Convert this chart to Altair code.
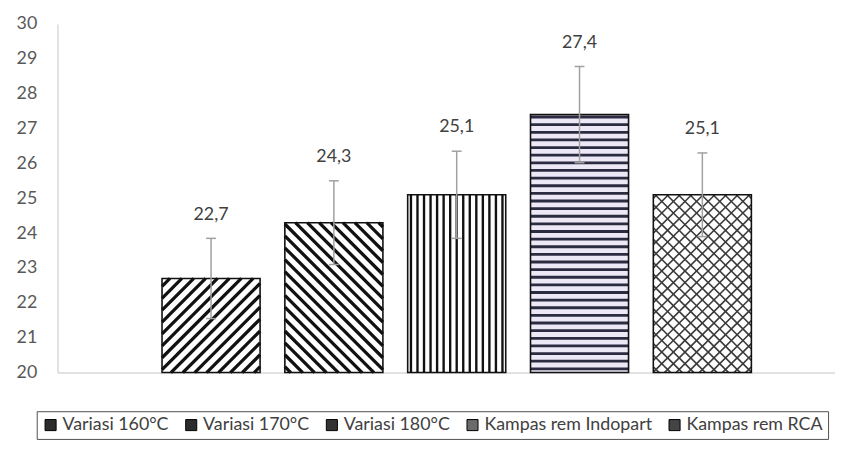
import altair as alt
import pandas as pd
import numpy as np

# ---- data ----
categories = ["Variasi 160°C", "Variasi 170°C", "Variasi 180°C",
              "Kampas rem Indopart", "Kampas rem RCA"]
values = [22.7, 24.3, 25.1, 27.4, 25.1]
errors = [1.15, 1.2, 1.25, 1.38, 1.2]
value_labels = ["22,7", "24,3", "25,1", "27,4", "25,1"]
y_ticks = [20, 21, 22, 23, 24, 25, 26, 27, 28, 29, 30]

# ---- layout / style ----
W, H = 785, 352
X0, X1 = -1.25, 5.08
Y0, Y1 = 20, 30
pxx = W / (X1 - X0)
pxy = H / (Y1 - Y0)
BAR_PX = 99
half = BAR_PX / 2 / pxx

bg_colors = ["#ffffff", "#ffffff", "#ffffff", "#ece8f5", "#ffffff"]
# (kind, spacing px, stroke width px, color)
hatches = [
    ("fwd", 12.0, 3.3, "#111111"),
    ("back", 12.0, 3.3, "#111111"),
    ("vert", 6.6, 2.4, "#111111"),
    ("horiz", 7.7, 2.8, "#2b2b42"),
    ("cross", 11.7, 1.6, "#3a3a3a"),
]
legend_fill = ["#2b2b2b", "#2b2b2b", "#333333", "#6a6a6a", "#444444"]

df = pd.DataFrame({
    "idx": list(range(len(categories))),
    "cat": categories,
    "val": values,
    "err": errors,
    "lab": value_labels,
    "bg": bg_colors,
})
df["lo"] = df["val"] - df["err"]
df["hi"] = df["val"] + df["err"]
df["xl"] = df["idx"] - half
df["xr"] = df["idx"] + half
df["base"] = Y0
df["cl"] = df["idx"] - 5 / pxx
df["cr"] = df["idx"] + 5 / pxx

# ---- hatch segments derived from each bar's value ----
segs = []
for i, v in enumerate(values):
    kind, s, w, c = hatches[i]
    Hb = (v - Y0) * pxy
    BW = BAR_PX

    def add(u0, v0, u1, v1):
        segs.append({"x": i - half + u0 / pxx, "x2": i - half + u1 / pxx,
                     "y": Y0 + v0 / pxy, "y2": Y0 + v1 / pxy, "w": w, "c": c})

    if kind in ("fwd", "cross"):
        for k in np.arange(-BW + s / 2, Hb, s):
            us, ue = max(0, -k), min(BW, Hb - k)
            if ue > us:
                add(us, us + k, ue, ue + k)
    if kind in ("back", "cross"):
        for k in np.arange(s / 2, BW + Hb, s):
            us, ue = max(0, k - Hb), min(BW, k)
            if ue > us:
                add(us, k - us, ue, k - ue)
    if kind == "vert":
        for u in np.arange(s / 2, BW, s):
            add(u, 0, u, Hb)
    if kind == "horiz":
        for vv in np.arange(s / 2, Hb, s):
            add(0, vv, BW, vv)
hdf = pd.DataFrame(segs)

xs = alt.Scale(domain=[X0, X1], nice=False, zero=False)
ys = alt.Scale(domain=[Y0, Y1], nice=False, zero=False)
FONT = "Lato"

x_axis = alt.Axis(labels=False, ticks=False, grid=False, title=None,
                  domainColor="#d9d9d9", domainWidth=1.5)
y_axis = alt.Axis(values=y_ticks, ticks=False, grid=False, title=None,
                  domainColor="#d9d9d9", domainWidth=1.5, labelPadding=21,
                  labelFontSize=18, labelColor="#595959", labelFont=FONT)


def X(f):
    return alt.X(f, scale=xs, axis=x_axis)


def Y(f):
    return alt.Y(f, scale=ys, axis=y_axis)


base = alt.Chart(df)

bars_bg = base.mark_rect(strokeWidth=0).encode(
    x=X("xl:Q"), x2="xr:Q", y=Y("base:Q"), y2="val:Q",
    fill=alt.Fill("bg:N", scale=None),
)

hatch = alt.Chart(hdf).mark_rule(strokeCap="butt").encode(
    x=X("x:Q"), x2="x2:Q", y=Y("y:Q"), y2="y2:Q",
    color=alt.Color("c:N", scale=None),
    strokeWidth=alt.StrokeWidth("w:Q", scale=None),
)

outline = base.mark_rect(fillOpacity=0, stroke="#111111", strokeWidth=1.6).encode(
    x=X("xl:Q"), x2="xr:Q", y=Y("base:Q"), y2="val:Q",
)

err_line = base.mark_rule(color="#a0a0a0", strokeWidth=1.5).encode(
    x=X("idx:Q"), y=Y("lo:Q"), y2="hi:Q",
)
cap_hi = base.mark_rule(color="#a0a0a0", strokeWidth=1.5).encode(
    x=X("cl:Q"), x2="cr:Q", y=Y("hi:Q"),
)
cap_lo = base.mark_rule(color="#a0a0a0", strokeWidth=1.5).encode(
    x=X("cl:Q"), x2="cr:Q", y=Y("lo:Q"),
)

labels = base.mark_text(font=FONT, fontSize=18, color="#404040",
                        baseline="middle", dy=-24).encode(
    x=X("idx:Q"), y=Y("hi:Q"), text="lab:N",
)

legend_layer = base.mark_square(opacity=0, size=1).encode(
    x=X("idx:Q"), y=Y("val:Q"),
    fill=alt.Fill("cat:N",
                  scale=alt.Scale(domain=categories, range=legend_fill),
                  legend=alt.Legend(
                      orient="none", legendX=-21, legendY=391,
                      direction="horizontal", columns=5, title=None,
                      strokeColor="#505050", padding=5,
                      symbolType="square", symbolSize=125,
                      symbolStrokeColor="#000000", symbolStrokeWidth=1,
                      symbolOpacity=1,
                      labelFont=FONT, labelFontSize=18, labelColor="#404040",
                      labelOffset=3, columnPadding=13, labelLimit=400)),
)

chart = alt.layer(
    bars_bg, hatch, outline, err_line, cap_hi, cap_lo, labels, legend_layer
).properties(
    width=W, height=H,
    autosize=alt.AutoSizeParams(type="none"),
    padding={"left": 50, "top": 14, "right": 0, "bottom": 70},
    background="white",
).configure_view(stroke=None)

chart.save("out.html", embed_options={"renderer": "svg", "actions": False})
